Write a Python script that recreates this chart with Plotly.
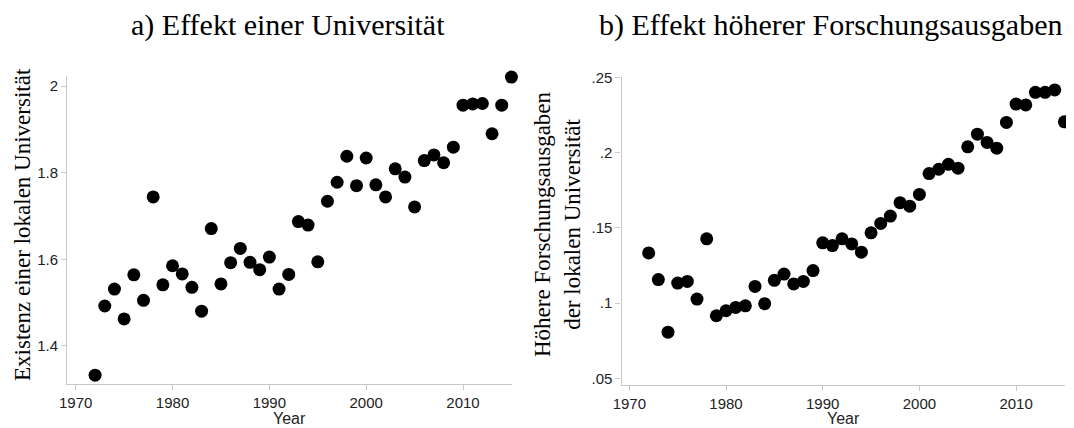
import plotly.graph_objects as go
from plotly.subplots import make_subplots

years = list(range(1972, 2016))

existenz_uni = [1.332, 1.492, 1.531, 1.462, 1.564, 1.505, 1.744, 1.541, 1.585, 1.566,
                1.535, 1.480, 1.671, 1.543, 1.592, 1.625, 1.593, 1.576, 1.605, 1.531,
                1.565, 1.687, 1.679, 1.594, 1.734, 1.778, 1.838, 1.770, 1.834, 1.772,
                1.744, 1.809, 1.790, 1.721, 1.828, 1.841, 1.823, 1.859, 1.956, 1.959,
                1.960, 1.890, 1.956, 2.021]

forschungsausgaben = [0.1333, 0.1156, 0.0807, 0.1133, 0.1144, 0.1027, 0.1427, 0.0916, 0.0949, 0.0971,
                      0.0982, 0.1111, 0.0996, 0.1151, 0.1193, 0.1127, 0.1144, 0.1216, 0.1400, 0.1382,
                      0.1427, 0.1393, 0.1338, 0.1467, 0.1529, 0.1578, 0.1667, 0.1644, 0.1722, 0.1860,
                      0.1889, 0.1922, 0.1896, 0.2038, 0.2122, 0.2067, 0.2029, 0.2200, 0.2322, 0.2316,
                      0.2400, 0.2400, 0.2416, 0.2204]

x_ticks = [1970, 1980, 1990, 2000, 2010]
left_yticks = [1.4, 1.6, 1.8, 2.0]
left_yticktext = ["1.4", "1.6", "1.8", "2"]
right_yticks = [0.05, 0.10, 0.15, 0.20, 0.25]
right_yticktext = [".05", ".1", ".15", ".2", ".25"]

title_a = "a) Effekt einer Universität"
title_b = "b) Effekt höherer Forschungsausgaben"
ytitle_a = "Existenz einer lokalen Universität"
ytitle_b = "Höhere Forschungsausgaben<br>der lokalen Universität"
xtitle = "Year"

# page is 1074x428; the html body has an 8px margin, so the figure is
# drawn 8px in from the top-left corner of the page.
OFF = 8
W, H = 1074 - OFF, 428 - OFF


def px_x(p):
    return (p - OFF) / W


def px_y(p):
    return (H - (p - OFF)) / H


fig = make_subplots(rows=1, cols=2)

marker = dict(color="black", size=13, line=dict(width=0))
fig.add_trace(go.Scatter(x=years, y=existenz_uni, mode="markers", marker=marker,
                         cliponaxis=False, showlegend=False), row=1, col=1)
fig.add_trace(go.Scatter(x=years, y=forschungsausgaben, mode="markers", marker=marker,
                         cliponaxis=False, showlegend=False), row=1, col=2)

axis_color = "#c8c8c8"
tick_font = dict(family="Liberation Sans, Arial, sans-serif", size=15, color="#222222")
common = dict(showline=True, linecolor=axis_color, linewidth=1.3, ticks="outside",
              ticklen=5, tickcolor=axis_color, tickwidth=1.3, showgrid=False,
              zeroline=False, tickfont=tick_font, mirror=False, automargin=False)

fig.update_layout(
    template="none",
    xaxis=dict(domain=[px_x(67.3), px_x(512.0)], range=[1969.13, 2015.06],
               tickvals=x_ticks, anchor="y", **common),
    yaxis=dict(domain=[px_y(384.3), px_y(76.0)], range=[1.311, 2.0235],
               tickvals=left_yticks, ticktext=left_yticktext, anchor="x", **common),
    xaxis2=dict(domain=[px_x(621.5), px_x(1065.0)], range=[1969.19, 2015.06],
                tickvals=x_ticks, anchor="y2", **common),
    yaxis2=dict(domain=[px_y(385.0), px_y(76.5)], range=[0.0456, 0.2505],
                tickvals=right_yticks, ticktext=right_yticktext, anchor="x2", **common),
    width=W, height=H,
    margin=dict(l=0, r=0, t=0, b=0),
    plot_bgcolor="white", paper_bgcolor="white",
)

serif = "Liberation Serif, Times New Roman, serif"
sans = "Liberation Sans, Arial, sans-serif"
ann = [
    dict(text=title_a, x=px_x(287.5), y=px_y(25), yanchor="middle",
         font=dict(family=serif, size=30, color="black")),
    dict(text=title_b, x=px_x(830), y=px_y(25), yanchor="middle",
         font=dict(family=serif, size=30, color="black")),
    dict(text=ytitle_a, x=px_x(23), y=px_y(225), yanchor="middle", textangle=-90,
         font=dict(family=serif, size=23, color="black")),
    dict(text=ytitle_b, x=px_x(558), y=px_y(224), yanchor="middle", textangle=-90,
         font=dict(family=serif, size=23, color="black")),
    dict(text=xtitle, x=px_x((67.3 + 512.0) / 2), y=0, yanchor="bottom", borderpad=0,
         font=dict(family=sans, size=16, color="#222222")),
    dict(text=xtitle, x=px_x((621.5 + 1065.0) / 2), y=0, yanchor="bottom", borderpad=0,
         font=dict(family=sans, size=16, color="#222222")),
]
for a in ann:
    a.update(xref="paper", yref="paper", showarrow=False, xanchor="center")
fig.update_layout(annotations=ann)

fig.write_html("out.html")
